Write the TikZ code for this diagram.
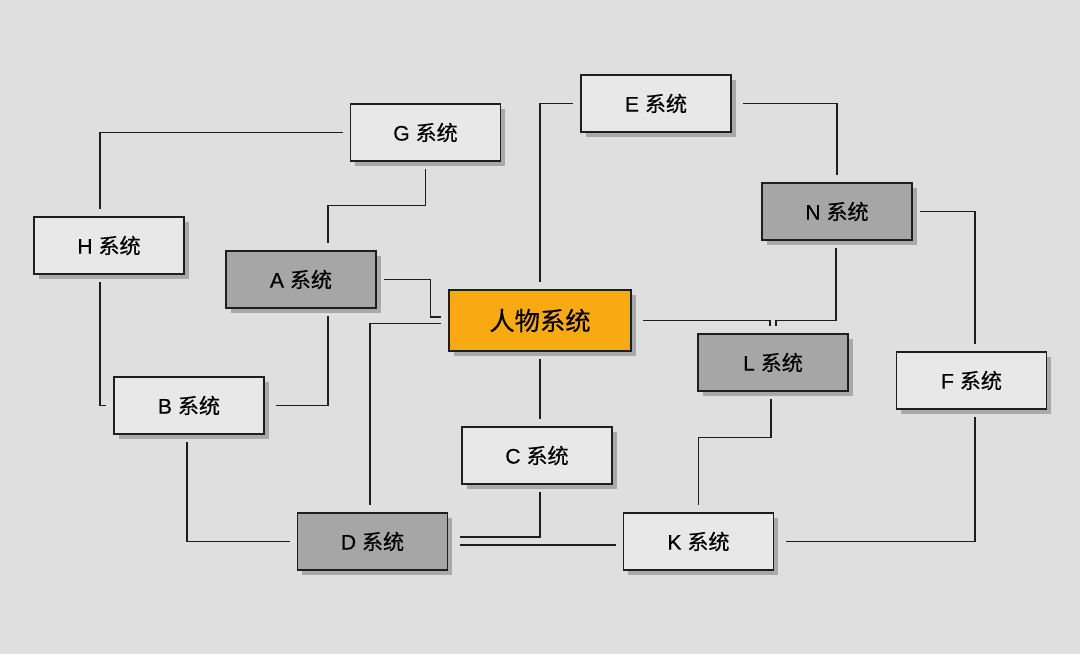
\documentclass[tikz,border=0pt]{standalone}
\usepackage{fontspec}
\setmainfont[FakeBold=0.4]{Liberation Sans}
\newfontfamily\cjk[FakeBold=0.4]{Noto Sans CJK SC}
\usetikzlibrary{calc, shadows}
\definecolor{bgray}{HTML}{DFDFDF}
\definecolor{lightbox}{HTML}{E8E8E8}
\definecolor{darkbox}{HTML}{A6A6A6}
\definecolor{hubfill}{HTML}{F9A912}
\definecolor{shade}{HTML}{A9A9A9}
\definecolor{edge}{HTML}{1E1E1E}
\tikzset{
  sys/.style={draw=edge, line width=1.1pt, fill=lightbox, minimum width=3.75cm, minimum height=1.425cm,
    font=\fontsize{15}{18}\selectfont,
    drop shadow={shadow xshift=0.12cm, shadow yshift=-0.12cm, fill=shade, opacity=1}},
  sysdark/.style={sys, fill=darkbox},
  hub/.style={sys, fill=hubfill, minimum width=4.55cm, minimum height=1.525cm, font=\fontsize{18}{21}\selectfont},
  link/.style={draw=edge, line width=0.95pt, shorten <=5pt, shorten >=5pt},
}

\begin{document}
\begin{tikzpicture}[x=0.025cm, y=-0.025cm]
    \fill[bgray] (0,0) rectangle (1080,654);
    \useasboundingbox (0,0) rectangle (1080,654);
    \node[sys] (G) at (425.5,132.5) {G \cjk 系统};
    \node[sys] (E) at (656,103.5) {E \cjk 系统};
    \node[sys] (H) at (109,245.5) {H \cjk 系统};
    \node[sysdark] (A) at (301,279.5) {A \cjk 系统};
    \node[sysdark] (N) at (837,211.5) {N \cjk 系统};
    \node[hub] (P) at (540,320.5) {\cjk 人物系统};
    \node[sysdark] (L) at (773,362.5) {L \cjk 系统};
    \node[sys] (F) at (971.5,380.5) {F \cjk 系统};
    \node[sys] (B) at (189,405.5) {B \cjk 系统};
    \node[sys] (C) at (537,455.5) {C \cjk 系统};
    \node[sysdark] (D) at (372.5,541.5) {D \cjk 系统};
    \node[sys] (K) at (698.5,541.5) {K \cjk 系统};
    % left side
    \draw[link] ($(H.north)+(-9,0)$) |- (G.west);
    \draw[link] ($(H.south)+(-9,0)$) |- (B.west);
    \draw[link] (G.south) -- ++(0,44) -| ($(A.north)+(27,0)$);
    \draw[link] (A.east) -- ++(54,0) |- ($(P.west)+(0,-3.5)$);
    \draw[link, shorten >=8pt] ($(A.south)+(27,0)$) |- (B.east);
    \draw[link] ($(B.south)+(-2,0)$) |- (D.west);
    \draw[link] ($(P.west)+(0,3)$) -| ($(D.north)+(-2.5,0)$);
    % top and right
    \draw[link] (P.north) |- (E.west);
    \draw[link, shorten <=8pt] (E.east) -| (N.north);
    \draw[link] (N.east) -| ($(F.north)+(3.5,0)$);
    \draw[link, shorten <=8pt] (P.east) -| ($(L.north)+(-3,0)$);
    \draw[link] ($(N.south)+(-1,0)$) -- ++(0,80) -| ($(L.north)+(3,0)$);
    % bottom
    \draw[link] (P.south) -- (P.south |- C.north);
    \draw[link, shorten >=8pt] ($(C.south)+(3,0)$) |- ($(D.east)+(0,-4.5)$);
    \draw[link, shorten <=8pt] ($(D.east)+(0,3.5)$) -- ($(K.west)+(0,3.5)$);
    \draw[link] ($(L.south)+(-2,0)$) -- ++(0,46) -| (K.north);
    \draw[link, shorten >=8pt] ($(F.south)+(3.5,0)$) |- (K.east);
\end{tikzpicture}
\end{document}
